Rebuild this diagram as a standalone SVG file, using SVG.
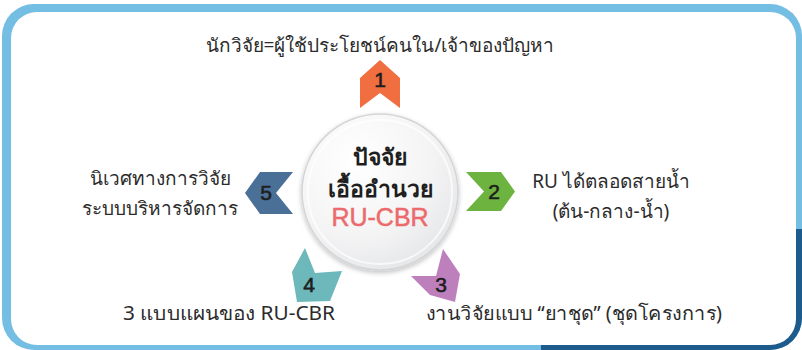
<svg xmlns="http://www.w3.org/2000/svg" width="802" height="350" viewBox="0 0 802 350">
<defs>
<style>
.lbl{font-family:"Noto Sans","DejaVu Sans",sans-serif;font-size:19px;fill:#2b2b2b;text-anchor:middle}
.num{font-family:"Liberation Sans",Arial,sans-serif;font-size:21px;fill:#1e1e1e;stroke:#1e1e1e;stroke-width:0.6;text-anchor:middle}
.ctr{font-family:"Noto Sans","DejaVu Sans",sans-serif;font-size:23px;font-weight:bold;text-anchor:middle}
.ctr2{font-family:"Liberation Sans",Arial,sans-serif;font-size:25px;fill:#ec6a6c;stroke:#ec6a6c;stroke-width:0.5;text-anchor:middle}
</style>
<clipPath id="frameClip"><rect x="2" y="4" width="800" height="346" rx="32"/></clipPath>
<radialGradient id="cg" cx="0.35" cy="0.3" r="0.8">
<stop offset="0" stop-color="#ffffff"/>
<stop offset="0.6" stop-color="#f4f4f5"/>
<stop offset="1" stop-color="#e3e4e6"/>
</radialGradient>
<filter id="sh" x="-20%" y="-20%" width="140%" height="140%">
<feGaussianBlur in="SourceAlpha" stdDeviation="2.5"/>
<feOffset dx="0" dy="2"/>
<feComponentTransfer><feFuncA type="linear" slope="0.25"/></feComponentTransfer>
<feMerge><feMergeNode/><feMergeNode in="SourceGraphic"/></feMerge>
</filter>
</defs>
<g id="frame">
<rect x="2" y="4" width="800" height="346" rx="32" fill="#74bde3"/>
<rect x="541" y="229" width="261" height="121" fill="#1d5b8c" clip-path="url(#frameClip)"/>
<rect x="11" y="12" width="785" height="333" rx="26" fill="#ffffff"/>
</g>
<g id="center">
<circle cx="380" cy="192" r="78" fill="url(#cg)" stroke="#d4d5d7" stroke-width="1.5" filter="url(#sh)"/>
<circle cx="380" cy="192" r="72" fill="none" stroke="#ffffff" stroke-width="2" opacity="0.7"/>
<text class="ctr" x="380" y="165" fill="#1e1e1e">ปัจจัย</text>
<text class="ctr" x="380" y="197" fill="#1e1e1e">เอื้ออำนวย</text>
<text class="ctr2" x="380" y="226">RU-CBR</text>
</g>
<g id="node1">
<polygon points="380,60 400,78 400,108 380,93 360,108 360,78" fill="#f06e3f"/>
<text class="num" x="380" y="87">1</text>
<text class="lbl" x="380" y="52">นักวิจัย=ผู้ใช้ประโยชน์คนใน/เจ้าของปัญหา</text>
</g>
<g id="node2">
<polygon points="466,172 501,172 515,191.5 501,211 466,211 484,191.5" fill="#6db33f"/>
<text class="num" x="494" y="199">2</text>
<text class="lbl" x="611" y="188">RU ได้ตลอดสายน้ำ</text>
<text class="lbl" x="611" y="218">(ต้น-กลาง-น้ำ)</text>
</g>
<g id="node3">
<polygon points="455,302 460,274 443,249 436,276 411,276 430,295" fill="#be80bc"/>
<text class="num" x="441" y="292">3</text>
<text class="lbl" x="574" y="320" textLength="296" lengthAdjust="spacingAndGlyphs">งานวิจัยแบบ “ยาชุด” (ชุดโครงการ)</text>
</g>
<g id="node4">
<polygon points="297,302 292,272 305,248 315,273 342,271 330,301" fill="#6cb8ba"/>
<text class="num" x="309" y="292">4</text>
<text class="lbl" x="229" y="320" textLength="212" lengthAdjust="spacingAndGlyphs">3 แบบแผนของ RU-CBR</text>
</g>
<g id="node5">
<polygon points="293,172 260,172 245,193 260,214 293,214 276,193" fill="#4a7098"/>
<text class="num" x="266" y="200">5</text>
<text class="lbl" x="160" y="185">นิเวศทางการวิจัย</text>
<text class="lbl" x="160" y="215">ระบบบริหารจัดการ</text>
</g>
<g id="connectors"></g>
</svg>
